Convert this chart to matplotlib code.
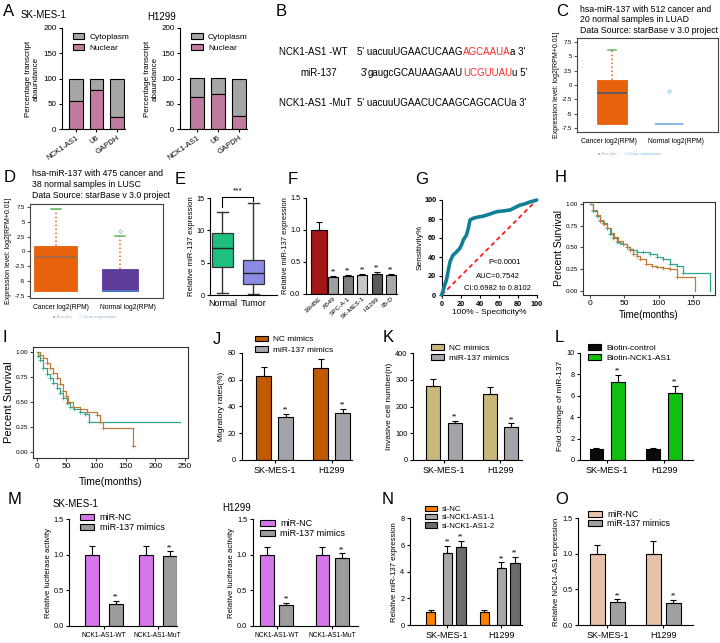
import matplotlib.pyplot as plt
import numpy as np

plt.rcParams['font.family'] = ['Liberation Sans', 'DejaVu Sans']
plt.rcParams['axes.linewidth'] = 0.8
plt.rcParams['xtick.major.width'] = 0.8
plt.rcParams['ytick.major.width'] = 0.8
plt.rcParams['xtick.major.size'] = 2.5
plt.rcParams['ytick.major.size'] = 2.5
plt.rcParams['xtick.labelsize'] = 5.5
plt.rcParams['ytick.labelsize'] = 5.3
plt.rcParams['xtick.major.pad'] = 1.5
plt.rcParams['ytick.major.pad'] = 1.5

# ---------------- data ----------------
# A  nuclear / cytoplasm fractionation (%)
frac_genes = ['NCK1-AS1', 'U6', 'GAPDH']
nuclear_sk = [56, 78, 23]
nuclear_h1299 = [63, 70, 25]

# C, D  starBase boxes: whislo, q1, med, q3, whishi
starbase_groups = ['Cancer log2(RPM)', 'Normal log2(RPM)']
luad_cancer = [-6.86, -6.86, -1.46, 0.85, 6.1]
luad_normal = [-6.86, -6.86, -6.86, -6.86, -6.86]
luad_outliers = [[], [-1.05]]
lusc_cancer = [-6.65, -6.65, -0.97, 0.9, 7.1]
lusc_normal = [-6.65, -6.65, -6.65, -2.95, 2.6]
lusc_outliers = [[], [3.47]]

# E  tissue expression boxes: min, q1, med, q3, max
tissue_groups = ['Normal', 'Tumor']
tissue_normal = [0.26, 4.4, 7.2, 9.6, 12.8]
tissue_tumor = [0.1, 1.65, 3.35, 5.4, 14.3]

# F  cell lines
cell_lines = ['16HBE', 'A549', 'SPC-A-1', 'SK-MES-1', 'H1299', '95-D']
cell_mir137 = [1.0, 0.26, 0.28, 0.29, 0.32, 0.30]
cell_mir137_err = [0.13, 0.02, 0.02, 0.02, 0.03, 0.02]

# G  ROC curve
roc_fpr = [0, 1.7, 3, 5, 7, 8.8, 10, 12, 15.8, 19, 21, 22.8, 26, 28, 29.8, 33,
           38, 43.8, 50, 58, 65, 72, 77, 82.5, 88, 93, 97, 100]
roc_tpr = [0, 5.3, 10, 15.8, 26.3, 35, 38, 42, 45.6, 49, 53, 58, 63, 70, 79, 80.7,
           82, 83, 85, 87.7, 88.5, 89.5, 92, 94.7, 96, 98, 99, 100]

# H  LUSC survival
lusc_high_t = [0, 5, 10, 15, 19, 24, 29, 34, 39, 44, 48, 53, 58, 63, 68, 77, 87,
               97, 106, 116, 126, 135, 174]
lusc_high_s = [1.0, 0.92, 0.86, 0.82, 0.78, 0.72, 0.66, 0.61, 0.56, 0.55, 0.54,
               0.51, 0.485, 0.47, 0.453, 0.446, 0.426, 0.39, 0.37, 0.31, 0.29,
               0.21, 0.0]
lusc_low_t = [0, 5, 10, 15, 20, 25, 30, 35, 40, 48, 53, 58, 63, 68, 73, 82, 90,
              97, 106, 116, 126, 153]
lusc_low_s = [1.0, 0.93, 0.87, 0.81, 0.77, 0.72, 0.67, 0.62, 0.57, 0.54, 0.51,
              0.47, 0.43, 0.40, 0.37, 0.31, 0.29, 0.28, 0.26, 0.25, 0.165, 0.0]

# I  LUAD survival
luad_high_t = [0, 3, 6, 11, 17, 22, 28, 34, 40, 45, 51, 56, 63, 73, 82, 88, 242]
luad_high_s = [1.0, 0.96, 0.92, 0.84, 0.78, 0.74, 0.69, 0.64, 0.59, 0.54, 0.49,
               0.457, 0.43, 0.407, 0.38, 0.30, 0.30]
luad_low_t = [0, 5, 11, 17, 22, 28, 34, 40, 45, 50, 53, 62, 73, 84, 101, 107,
              111, 163, 165]
luad_low_s = [1.0, 0.97, 0.94, 0.89, 0.84, 0.79, 0.74, 0.68, 0.61, 0.56, 0.507,
              0.457, 0.43, 0.407, 0.373, 0.307, 0.24, 0.065, 0.065]

# J, K  migration / invasion
cells2 = ['SK-MES-1', 'H1299']
migr_nc = [62.6, 68.8]
migr_nc_err = [6.5, 6.5]
migr_mir = [31.8, 34.8]
migr_mir_err = [2.5, 3.0]
inv_nc = [277, 247]
inv_nc_err = [28, 25]
inv_mir = [137, 125]
inv_mir_err = [10, 12]

# L  biotin pull-down
pull_ctrl = [1.0, 1.0]
pull_ctrl_err = [0.1, 0.1]
pull_nck = [7.24, 6.27]
pull_nck_err = [0.67, 0.62]

# M  luciferase
luc_groups = ['NCK1-AS1-WT', 'NCK1-AS1-MuT']
luc_sk_nc = [1.0, 1.0]
luc_sk_nc_err = [0.13, 0.12]
luc_sk_mir = [0.31, 0.98]
luc_sk_mir_err = [0.04, 0.07]
luc_h_nc = [1.0, 1.0]
luc_h_nc_err = [0.11, 0.11]
luc_h_mir = [0.29, 0.96]
luc_h_mir_err = [0.03, 0.06]

# N  si-NCK1-AS1
si_nc = [1.0, 1.0]
si_nc_err = [0.1, 0.1]
si_1 = [5.38, 4.25]
si_1_err = [0.55, 0.45]
si_2 = [5.83, 4.68]
si_2_err = [0.5, 0.45]

# O  NCK1-AS1 after mimics
nck_nc = [1.0, 1.0]
nck_nc_err = [0.12, 0.19]
nck_mir = [0.33, 0.31]
nck_mir_err = [0.03, 0.04]

# ---------------- figure ----------------
W, H = 720, 643
fig = plt.figure(figsize=(7.2, 6.43), dpi=100)

tax = fig.add_axes([0, 0, 1, 1])
tax.axis('off')
tax.set_xlim(0, W)
tax.set_ylim(H, 0)


def px_rect(x0, y0, x1, y1):
    return [x0 / W, 1 - y1 / H, (x1 - x0) / W, (y1 - y0) / H]


def txt(x, y, s, **kw):
    kw.setdefault('va', 'center')
    kw.setdefault('ha', 'left')
    return tax.text(x, y, s, **kw)


def set_ylab(ax, rect, s, fs, xpx, y=0.5, **kw):
    # xpx: pixel column of the label centre
    ax.set_ylabel(s, fontsize=fs, **kw)
    ax.yaxis.set_label_coords((xpx - rect[0]) / (rect[2] - rect[0]), y)
    ax.yaxis.label.set_va('center')


def set_xlab(ax, rect, s, fs, ypx, **kw):
    ax.set_xlabel(s, fontsize=fs, **kw)
    ax.xaxis.set_label_coords(0.5, (rect[3] - ypx) / (rect[3] - rect[1]))
    ax.xaxis.label.set_va('center')


def prism_axes(rect):
    ax = fig.add_axes(px_rect(*rect))
    ax.spines['top'].set_visible(False)
    ax.spines['right'].set_visible(False)
    ax.patch.set_alpha(0)
    return ax


def bar_panel(rect, groups, series, colors, labels, offsets, width, xlim, ylim,
              yticks, yticklabels, ylabel, ylab_px, starred, leg_xy,
              leg_fs=6, leg_sp=0.3, ylab_fs=6, xlab_fs=6.5):
    ax = prism_axes(rect)
    x = np.arange(len(groups))
    for (vals, errs), col, lab, off, st in zip(series, colors, labels, offsets, starred):
        xs = x + off
        ax.bar(xs, vals, width, color=col, edgecolor='black', linewidth=0.8,
               label=lab, zorder=2)
        ax.errorbar(xs, vals, yerr=[np.zeros(len(errs)), errs], fmt='none',
                    ecolor='black', elinewidth=0.8, capsize=2.2, capthick=0.8,
                    zorder=3)
        if st:
            for xi, v, e in zip(xs, vals, errs):
                ax.annotate('**', (xi, v + e), xytext=(0, 0.3),
                            textcoords='offset points', ha='center',
                            va='bottom', fontsize=5)
    ax.set_xlim(*xlim)
    ax.set_ylim(*ylim)
    ax.set_yticks(yticks)
    ax.set_yticklabels(yticklabels)
    ax.spines['left'].set_bounds(yticks[0], yticks[-1])
    ax.set_xticks(x)
    ax.set_xticklabels(groups, fontsize=xlab_fs)
    mid = (yticks[-1] / 2 - ylim[0]) / (ylim[1] - ylim[0])
    set_ylab(ax, rect, ylabel, ylab_fs, ylab_px, mid)
    ax.legend(loc='upper left', bbox_to_anchor=leg_xy, frameon=False,
              fontsize=leg_fs, handlelength=1.6, handleheight=0.7,
              handletextpad=0.6, labelspacing=leg_sp, borderaxespad=0,
              borderpad=0)
    return ax


# ---------------- A ----------------
txt(3, 12, 'A', fontsize=12)
txt(21, 15, 'SK-MES-1', fontsize=7)
txt(147, 17, 'H1299', fontsize=7)
for rect, nuc, xl, lab_px in [((62, 28, 125, 129), nuclear_sk, (-0.68, 2.39), 32),
                              ((180, 28, 247, 129), nuclear_h1299, (-0.79, 2.4), 151)]:
    ax = prism_axes(rect)
    x = np.arange(len(frac_genes))
    cyto = [100 - v for v in nuc]
    ax.bar(x, cyto, 0.66, bottom=nuc, color='#a6a6a6', edgecolor='black',
           linewidth=0.8, label='Cytoplasm')
    ax.bar(x, nuc, 0.66, color='#c27ba0', edgecolor='black', linewidth=0.8,
           label='Nuclear')
    ax.set_xlim(*xl)
    ax.set_ylim(0, 200)
    ax.set_yticks([0, 50, 100, 150, 200])
    ax.tick_params(axis='y', labelsize=5.8)
    ax.set_xticks(x)
    ax.set_xticklabels(frac_genes, rotation=35, ha='right', rotation_mode='anchor',
                       fontsize=5.5)
    set_ylab(ax, rect, 'Percentage transcript\nabaundance', 5.8, lab_px, linespacing=1.1)
    ax.legend(loc='upper left', bbox_to_anchor=(0.17, 0.95), frameon=False,
              fontsize=6, handlelength=1.4, handleheight=0.7, handletextpad=0.6,
              labelspacing=0.35, borderaxespad=0, borderpad=0)

# ---------------- B ----------------
txt(276, 12, 'B', fontsize=12)
red = '#ff2a2a'


def seq_line(x, y, parts, fs=7):
    prev = txt(x, y, parts[0][0], color=parts[0][1], fontsize=fs)
    for s, c in parts[1:]:
        prev = tax.annotate(s, xy=(1, 0.5), xycoords=prev, va='center', ha='left',
                            color=c, fontsize=fs)


txt(279, 52, 'NCK1-AS1 -WT', fontsize=7)
seq_line(357, 52, [("5' uacuuUGAACUCAAG", 'black'), ('AGCAAUA', red), ("a 3'", 'black')])
txt(300, 73, 'miR-137', fontsize=7)
txt(361, 73, "3'", fontsize=7)
seq_line(368, 73, [('gaugcGCAUAAGAAU', 'black'), ('UCGUUAU', red), ("u 5'", 'black')])
txt(279, 103, 'NCK1-AS1 -MuT', fontsize=7)
seq_line(357, 103, [("5' uacuuUGAACUCAAGCAGCACUa 3'", 'black')])


# ---------------- C, D ----------------
def starbase_panel(rect, xlim, ylim, boxes, outliers, widths, faces, medcols,
                   label_pos, title, title_xy, ylab_px, leg_xy):
    ax = fig.add_axes(px_rect(*rect))
    stats = []
    for b, fl in zip(boxes, outliers):
        stats.append(dict(whislo=b[0], q1=b[1], med=b[2], q3=b[3], whishi=b[4],
                          fliers=fl))
    art = ax.bxp(stats, positions=[1, 2], widths=widths, patch_artist=True,
                 capwidths=[0.15, 0.15], manage_ticks=False,
                 whiskerprops=dict(color='#f0602a', linestyle=(0, (1, 1.6)), lw=1.1),
                 capprops=dict(color='#5cb85c', lw=1.1),
                 flierprops=dict(marker='D', ms=2, mfc='none', mec='#8ec5e8', mew=0.6))
    for i, bx in enumerate(art['boxes']):
        bx.set_facecolor(faces[i])
        bx.set_edgecolor(faces[i])
        bx.set_linewidth(0.6)
        art['medians'][i].set_color(medcols[i])
        art['medians'][i].set_linewidth(1.2)
        art['caps'][2 * i].set_visible(False)
        if boxes[i][4] <= boxes[i][3]:
            art['caps'][2 * i + 1].set_visible(False)
    ax.set_xlim(*xlim)
    ax.set_ylim(*ylim)
    ax.set_yticks([-7.5, -5, -2.5, 0, 2.5, 5, 7.5])
    ax.set_yticklabels(['-7.5', '-5', '-2.5', '0', '2.5', '5', '7.5'])
    ax.tick_params(axis='y', labelsize=4.3, length=2, color='#555555')
    ax.tick_params(axis='x', labelsize=4.9, length=0, pad=4)
    ax.set_xticks(label_pos)
    ax.set_xticklabels(starbase_groups)
    for sp in ax.spines.values():
        sp.set_color('#444444')
    set_ylab(ax, rect, 'Expression level: log2[RPM+0.01]', 5, ylab_px)
    for k, line in enumerate(title):
        txt(title_xy[0], title_xy[1] + k * 10.7, line, fontsize=6.3)
    txt(leg_xy[0], leg_xy[1], '\u25a0 Box plot', fontsize=3, color='#b0b0b0')
    txt(leg_xy[0] + 26, leg_xy[1], '\u25c7 Gene expressions', fontsize=3,
        color='#7fb8e0')
    return ax


txt(556, 12, 'C', fontsize=12)
starbase_panel((577, 38, 718, 132), (0.386, 2.861), (-8.2, 8.2),
               [luad_cancer, luad_normal], luad_outliers, [0.51, 0.49],
               ['#e8620c', '#7fb2e5'], ['#4a5868', '#7fb2e5'], [0.94, 2.12],
               ['hsa-miR-137 with 512 cancer and', '20 normal samples in LUAD',
                'Data Source: starBase v 3.0 project'], (580, 9), 556.5, (598, 154))

txt(4, 178, 'D', fontsize=12)
starbase_panel((30, 204, 163, 298), (0.595, 2.67), (-7.84, 8.0),
               [lusc_cancer, lusc_normal], lusc_outliers, [0.67, 0.55],
               ['#e8620c', '#5e3c99'], ['#9c6b50', '#4a7fd8'], [1.078, 2.117],
               ['hsa-miR-137 with 475 cancer and', '38 normal samples in LUSC',
                'Data Source: starBase v 3.0 project'], (32, 174), 9, (53, 317))

# ---------------- E ----------------
txt(175, 179, 'E', fontsize=12)
rect_e = (210, 180, 277, 295)
ax = prism_axes(rect_e)
estats = []
for b in [tissue_normal, tissue_tumor]:
    estats.append(dict(whislo=b[0], q1=b[1], med=b[2], q3=b[3], whishi=b[4], fliers=[]))
art = ax.bxp(estats, positions=[0, 1], widths=0.68, patch_artist=True,
             capwidths=[0.36, 0.36],
             whiskerprops=dict(color='#333333', lw=1.0),
             capprops=dict(color='#333333', lw=1.0),
             medianprops=dict(color='#222222', lw=1.0),
             boxprops=dict(edgecolor='#333333', lw=0.9))
for bx, col in zip(art['boxes'], ['#1fbf7f', '#8c8ce6']):
    bx.set_facecolor(col)
ax.plot([0, 0, 1, 1], [13.6, 15.2, 15.2, 14.6], color='black', lw=0.8)
ax.text(0.5, 15.6, '***', ha='center', va='bottom', fontsize=6)
ax.set_xlim(-0.4, 1.76)
ax.set_ylim(0, 17.8)
ax.set_yticks([0, 5, 10, 15])
ax.spines['left'].set_bounds(0, 15)
ax.set_xticks([0, 1])
ax.set_xticklabels(tissue_groups, fontsize=6.5)
ax.tick_params(axis='x', length=0, pad=3)
set_ylab(ax, rect_e, 'Relative miR-137 expression', 5.6, 191.5, 7.5 / 17.8)

# ---------------- F ----------------
txt(288, 180, 'F', fontsize=12)
rect_f = (306, 180, 397, 294)
ax = prism_axes(rect_f)
xf = np.arange(len(cell_lines))
f_colors = ['#a51616', '#a0a0a0', '#808080', '#c8c8c8', '#5a5a5a', '#a8a8a8']
f_widths = [1.15, 0.7, 0.7, 0.7, 0.7, 0.7]
ax.bar(xf, cell_mir137, f_widths, color=f_colors, edgecolor='black', linewidth=0.8,
       zorder=2)
ax.errorbar(xf, cell_mir137, yerr=[np.zeros(len(xf)), cell_mir137_err], fmt='none',
            ecolor='black', elinewidth=0.8, capsize=2.2, capthick=0.8, zorder=3)
for xi, v, e in zip(xf[1:], cell_mir137[1:], cell_mir137_err[1:]):
    ax.annotate('**', (xi, v + e), xytext=(0, 0.3), textcoords='offset points',
                ha='center', va='bottom', fontsize=5)
ax.set_xlim(-0.9, 5.42)
ax.set_ylim(0, 1.78)
ax.set_yticks([0, 0.5, 1.0, 1.5])
ax.set_yticklabels(['0.0', '0.5', '1.0', '1.5'])
ax.spines['left'].set_bounds(0, 1.5)
ax.set_xticks(xf)
ax.set_xticklabels(cell_lines, rotation=42, ha='right', rotation_mode='anchor',
                   fontsize=4.6)
ax.tick_params(axis='x', length=0)
set_ylab(ax, rect_f, 'Relative miR-137 expression', 5.4, 285.5, 0.75 / 1.78)

# ---------------- G ----------------
txt(415, 180, 'G', fontsize=12)
rect_g = (441.7, 200, 536.7, 295)
ax = prism_axes(rect_g)
ax.plot([0, 100], [0, 100], color='#ff2020', lw=1.3, ls=(0, (2.5, 1.8)), zorder=2)
ax.plot(roc_fpr, roc_tpr, color='#127f96', lw=2.6, solid_capstyle='round',
        clip_on=False, zorder=3)
ax.set_xlim(0, 100)
ax.set_ylim(0, 100)
ax.set_xticks([0, 20, 40, 60, 80, 100])
ax.set_yticks([0, 20, 40, 60, 80, 100])
for lab in ax.get_xticklabels() + ax.get_yticklabels():
    lab.set_fontweight('bold')
    lab.set_fontsize(5.3)
set_ylab(ax, rect_g, 'Sensitivity%', 6, 420)
set_xlab(ax, rect_g, '100% - Specificity%', 6, 313)
txt(505, 263, 'P<0.0001', fontsize=5.5, ha='center')
txt(498, 277, 'AUC=0.7542', fontsize=5.5, ha='center')
txt(497, 289, 'CI:0.6982 to 0.8102', fontsize=5.5, ha='center')

# ---------------- H, I ----------------
km_high = '#2aa58c'
km_low = '#c07834'


def km_panel(rect, xlim, ylim, xticks, curves, xfs, yfs, lab_fs, ylab_px, xlab_px):
    ax = fig.add_axes(px_rect(*rect))
    for t, s, col in curves:
        ax.step(t, s, where='post', color=col, lw=0.9)
        ax.plot(t[1:-1], s[1:-1], '+', color=col, ms=2.5, mew=0.5)
    ax.set_xlim(*xlim)
    ax.set_ylim(*ylim)
    ax.set_xticks(xticks)
    ax.set_yticks([0, 0.25, 0.5, 0.75, 1.0])
    ax.set_yticklabels(['0.00', '0.25', '0.50', '0.75', '1.00'])
    ax.tick_params(axis='x', labelsize=xfs, length=2, color='#444444')
    ax.tick_params(axis='y', labelsize=yfs, length=2, color='#444444')
    for sp in ax.spines.values():
        sp.set_color('#333333')
    set_ylab(ax, rect, 'Percent Survival', lab_fs, ylab_px)
    set_xlab(ax, rect, 'Time(months)', lab_fs - 0.5, xlab_px)
    return ax


def km_legend(x, y, dy, fs):
    txt(x + 5, y, 'Group', fontsize=fs)
    for k, (lab, col) in enumerate([('High', km_high), ('Low', km_low)]):
        yy = y + (k + 1) * dy
        tax.plot([x, x + 12], [yy, yy], color=col, lw=0.9)
        txt(x + 15, yy, lab, fontsize=fs)


txt(555, 178, 'H', fontsize=12)
km_panel((583, 202, 715, 295), (-10.2, 181.5), (-0.046, 1.023), [0, 50, 100, 150],
         [(lusc_high_t, lusc_high_s, km_high), (lusc_low_t, lusc_low_s, km_low)],
         6, 4.5, 7.5, 559, 314.5)
txt(656, 205, 'Overall Survival for hsa-miR-137 in LUSC cancer', fontsize=3.5,
    ha='center')
for k, line in enumerate(['log-Rank p = 0.39', 'Low Num=235', 'High Num=234']):
    txt(634, 212 + k * 5.6, line, fontsize=4.2)
txt(632, 229, 'Hazard Ratio=0.88', fontsize=4.2)
km_legend(675, 236.5, 7, 4.4)

txt(3, 338, 'I', fontsize=12)
km_panel((33, 347, 188, 458), (-6.2, 255), (-0.057, 1.053), [0, 50, 100, 150, 200, 250],
         [(luad_high_t, luad_high_s, km_high), (luad_low_t, luad_low_s, km_low)],
         6, 4.6, 8, 8.5, 482)
txt(118, 356.5, 'Overall Survival for hsa-miR-137 in LUAD cancer', fontsize=4.3,
    ha='center')
txt(92, 363.5, 'log-Rank p = 0.3', fontsize=4.3)
txt(92, 369.5, 'Low Num=252', fontsize=4.3)
txt(87, 377, 'High Num=251', fontsize=4.3)
txt(87, 385, 'Hazard Ratio=1.17', fontsize=4.3)
km_legend(136, 390.5, 8, 4.6)

# ---------------- J ----------------
txt(213, 340, 'J', fontsize=12)
bar_panel((241.7, 335, 352, 460), cells2,
          [(migr_nc, migr_nc_err), (migr_mir, migr_mir_err)],
          ['#c05a00', '#a3a3ab'], ['NC mimics', 'miR-137 mimics'], [-0.194, 0.194],
          0.265, (-0.587, 1.36), (0, 93.2), [0, 20, 40, 60, 80],
          ['0', '20', '40', '60', '80'], 'Migratory rates(%)', 222, [False, True],
          (0.12, 0.995))

# ---------------- K ----------------
txt(383, 337, 'K', fontsize=12)
bar_panel((413.3, 335, 522, 460), cells2,
          [(inv_nc, inv_nc_err), (inv_mir, inv_mir_err)],
          ['#c8b87a', '#a3a3ab'], ['NC mimics', 'miR-137 mimics'], [-0.19, 0.19],
          0.25, (-0.54, 1.38), (0, 468.6), [0, 100, 200, 300, 400],
          ['0', '100', '200', '300', '400'], 'Invasive cell number(n)', 389.5,
          [False, True], (0.16, 0.93))

# ---------------- L ----------------
txt(555, 337, 'L', fontsize=12)
bar_panel((580, 335, 693, 460), cells2,
          [(pull_ctrl, pull_ctrl_err), (pull_nck, pull_nck_err)],
          ['#0a0a0a', '#10c010'], ['Biotin-control', 'Biotin-NCK1-AS1'],
          [-0.19, 0.19], 0.245, (-0.48, 1.51), (0, 11.65), [0, 2, 4, 6, 8, 10],
          ['0', '2', '4', '6', '8', '10'], 'Fold change of miR-137', 560,
          [False, True], (0.07, 0.93))

# ---------------- M ----------------
txt(8, 499, 'M', fontsize=12)
txt(53, 504, 'SK-MES-1', fontsize=7)
txt(222, 508, 'H1299', fontsize=7)
for rect, nc, mir, off, wid, xl, lab_px, leg in [
        ((69.3, 508, 176.7, 626), (luc_sk_nc, luc_sk_nc_err), (luc_sk_mir, luc_sk_mir_err),
         0.22, 0.26, (-0.64, 1.35), 48, (0.1, 0.955)),
        ((252.7, 508, 358.3, 626), (luc_h_nc, luc_h_nc_err), (luc_h_mir, luc_h_mir_err),
         0.175, 0.25, (-0.43, 1.47), 232, (0.07, 0.905))]:
    ax = bar_panel(rect, luc_groups, [nc, mir], ['#d775eb', '#9c9c9c'],
                   ['miR-NC', 'miR-137 mimics'], [-off, off], wid, xl, (0, 1.66),
                   [0, 0.5, 1.0, 1.5], ['0.0', '0.5', '1.0', '1.5'],
                   'Relative luciferase activity', lab_px, [False, True], leg,
                   leg_fs=6.5, leg_sp=0.12, ylab_fs=5.6, xlab_fs=4.8)

# ---------------- N ----------------
txt(382, 500, 'N', fontsize=12)
bar_panel((410, 505, 521.7, 625), cells2,
          [(si_nc, si_nc_err), (si_1, si_1_err), (si_2, si_2_err)],
          ['#ff8000', '#a8a8a8', '#6c6c6c'], ['si-NC', 'si-NCK1-AS1-1', 'si-NCK1-AS1-2'],
          [-0.31, 0, 0.255], 0.17, (-0.69, 1.38), (0, 9.0), [0, 2, 4, 6, 8],
          ['0', '2', '4', '6', '8'], 'Relative miR-137 expression', 395,
          [False, True, True], (0.13, 0.995), leg_fs=5.6, leg_sp=0.12, ylab_fs=5.6)

# ---------------- O ----------------
txt(555, 500, 'O', fontsize=12)
bar_panel((578.3, 505, 693.3, 625), cells2,
          [(nck_nc, nck_nc_err), (nck_mir, nck_mir_err)],
          ['#e6c3a8', '#a0a0a0'], ['miR-NC', 'miR-137 mimics'], [-0.18, 0.18],
          0.27, (-0.52, 1.54), (0, 1.69), [0, 0.5, 1.0, 1.5],
          ['0.0', '0.5', '1.0', '1.5'], 'Relative NCK1-AS1 expression', 556.5,
          [False, True], (0.085, 0.96), leg_fs=6.3, leg_sp=0.05, ylab_fs=5.6)

fig.savefig('out.png', dpi=100)
